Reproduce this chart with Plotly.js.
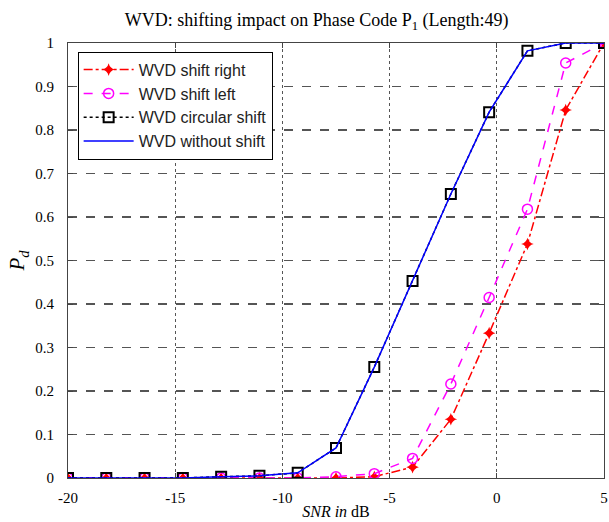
<!DOCTYPE html>
<html>
<head>
<meta charset="utf-8">
<script src="https://cdn.plot.ly/plotly-3.0.1.min.js"></script>
<style>html,body{margin:0;padding:0;background:#fff;}#chart{width:609px;height:522px;}</style>
</head>
<body>
<div id="chart"></div>
<script>
const snr = [-20, -18.214, -16.429, -14.643, -12.857, -11.071, -9.286, -7.5, -5.714, -3.929, -2.143, -0.357, 1.429, 3.214, 5];
const shiftRight = [0, 0, 0, 0, 0, 0, 0, 0, 0.003, 0.025, 0.135, 0.333, 0.538, 0.846, 1.0];
const shiftLeft = [0, 0, 0, 0, 0, 0, 0, 0.003, 0.01, 0.045, 0.216, 0.415, 0.618, 0.954, 1.0];
const circularShift = [0, 0, 0, 0, 0.003, 0.005, 0.012, 0.069, 0.255, 0.453, 0.653, 0.841, 0.982, 1.0, 1.0];
const withoutShift = [0, 0, 0, 0, 0.003, 0.005, 0.012, 0.069, 0.255, 0.453, 0.653, 0.841, 0.982, 1.0, 1.0];
const xTicks = [-20, -15, -10, -5, 0, 5];
const yTicks = [0, 0.1, 0.2, 0.3, 0.4, 0.5, 0.6, 0.7, 0.8, 0.9, 1];

const traces = [
  {x: snr, y: shiftRight, name: 'WVD shift right', mode: 'lines+markers', legendgroup: 'a',
   line: {color: '#ff0000', dash: 'dashdot', width: 1.5},
   marker: {symbol: 'star-diamond', size: 9, color: '#ff0000'}},
  {x: snr, y: shiftLeft, name: 'WVD shift left', mode: 'lines+markers', legendgroup: 'b',
   line: {color: '#ff00ff', dash: 'dash', width: 1.5},
   marker: {symbol: 'circle-open', size: 10, color: '#ff00ff', line: {width: 1.5, color: '#ff00ff'}}},
  {x: snr, y: circularShift, name: 'WVD circular shift', mode: 'lines+markers', legendgroup: 'c',
   line: {color: '#000000', dash: 'dot', width: 1.5},
   marker: {symbol: 'square-open', size: 10, color: '#000000', line: {width: 2, color: '#000000'}}},
  {x: snr, y: withoutShift, name: 'WVD without shift', mode: 'lines', legendgroup: 'd',
   line: {color: '#0000ff', width: 1.5}}
];

const layout = {
  width: 609, height: 522,
  margin: {l: 68, r: 5, t: 43, b: 44},
  paper_bgcolor: '#fff', plot_bgcolor: '#fff',
  showlegend: true,
  title: {text: 'WVD: shifting impact on Phase Code P<sub>1</sub> (Length:49)',
          font: {family: 'Liberation Serif', size: 18, color: '#000'},
          x: 0.52, xanchor: 'center', y: 0.962, yanchor: 'middle'},
  xaxis: {range: [-20, 5], tickvals: xTicks, ticktext: xTicks.map(String),
          showgrid: true, gridcolor: '#555', griddash: 'dot', gridwidth: 1.3,
          zeroline: false, showline: true, linecolor: '#444', mirror: 'ticks',
          ticks: 'inside', ticklen: 5, tickcolor: '#444', ticklabelstandoff: 6,
          tickfont: {family: 'Liberation Serif', size: 15, color: '#000'},
          title: {text: '<i>SNR in</i> dB', font: {family: 'Liberation Serif', size: 16, color: '#000'}, standoff: 0}},
  yaxis: {range: [0, 1], tickvals: yTicks, ticktext: yTicks.map(String),
          showgrid: true, gridcolor: '#555', griddash: 'dash', gridwidth: 1.3,
          zeroline: false, showline: true, linecolor: '#444', mirror: 'ticks',
          ticks: 'inside', ticklen: 5, tickcolor: '#444', ticklabelstandoff: 10,
          tickfont: {family: 'Liberation Serif', size: 15, color: '#000'},
          title: {text: '<i>P<sub>d</sub></i>', font: {family: 'Liberation Serif', size: 21, color: '#000'}, standoff: 4}},
  legend: {x: 0.018, y: 0.98, xanchor: 'left', yanchor: 'top',
           bgcolor: '#fff', bordercolor: '#000', borderwidth: 1,
           font: {family: 'Liberation Sans', size: 16, color: '#222'},
           tracegroupgap: 0, itemwidth: 50}
};

Plotly.newPlot('chart', traces, layout, {displayModeBar: false, staticPlot: true});
</script>
</body>
</html>
